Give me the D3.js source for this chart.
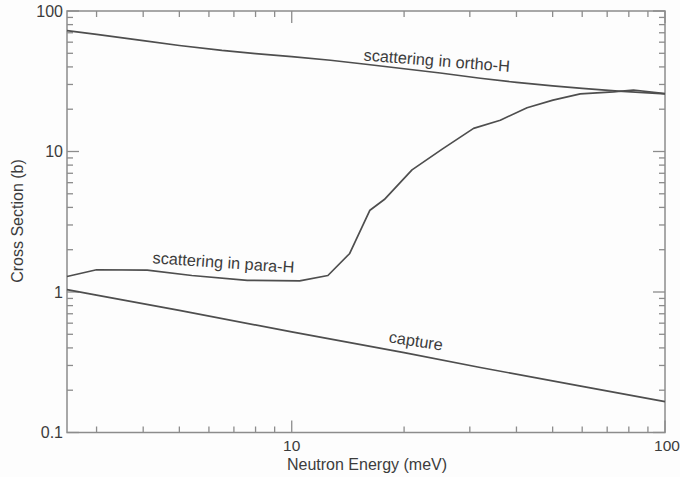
<!DOCTYPE html>
<html>
<head>
<meta charset="utf-8">
<script src="https://cdn.jsdelivr.net/npm/d3@7"></script>
<style>
  html, body { margin: 0; padding: 0; background: #fdfdfd; }
  svg { display: block; font-family: "Liberation Sans", Arial, Helvetica, sans-serif; }
</style>
</head>
<body>
<svg id="chart" width="680" height="477"></svg>
<script>
// Neutron energies (meV) and cross sections (barns) for each curve
const orthoEnergy = [2.5, 3, 4, 5, 6.5, 8, 10, 12.7, 16, 20, 25, 32, 40, 50, 60, 75, 100];
const orthoXS     = [72.4, 68.2, 61.5, 56.8, 52.4, 49.8, 47.3, 44.6, 41.6, 38.8, 36.2, 33.2, 31.0, 29.3, 28.1, 26.9, 25.7];

const paraEnergy = [2.5, 3.0, 4.1, 5.4, 7.6, 10.5, 12.5, 14.3, 16.2, 17.7, 21.0, 25.3, 30.7, 36.2, 42.7, 50.1, 59.3, 72.8, 82.3, 100];
const paraXS     = [1.29, 1.44, 1.43, 1.31, 1.21, 1.20, 1.31, 1.88, 3.82, 4.55, 7.4, 10.4, 14.6, 16.7, 20.5, 23.2, 25.7, 26.6, 27.4, 25.8];

const captureEnergy = [2.5, 3, 5, 10, 20, 32, 59, 100];
const captureXS     = [1.04, 0.95, 0.74, 0.52, 0.37, 0.29, 0.215, 0.166];

// Axis ranges and labelled ticks
const xDomain = [2.5, 100];
const yDomain = [0.1, 100];
const xTickLabels = [10, 100];
const yTickLabels = [100, 10, 1, 0.1];

const curveLabels = [
  { text: "scattering in ortho-H", E: 24.4, v: 40.5, angle: 4.5 },
  { text: "scattering in para-H",  E: 6.55, v: 1.48, angle: 3.9 },
  { text: "capture",               E: 21.4, v: 0.41, angle: 8.7 }
];

const svg = d3.select("#chart");
const plotLeft = 67, plotRight = 665, plotTop = 11, plotBottom = 432.5;

const x = d3.scaleLog().domain(xDomain).range([plotLeft, plotRight]);
const y = d3.scaleLog().domain(yDomain).range([plotBottom, plotTop]);

const frameColor = "#8c8c8c";
const lineColor = "#4e4e4e";
const textColor = "#3c3c3c";

const isMajor = v => Math.abs(Math.log10(v) - Math.round(Math.log10(v))) < 1e-9;

// Ticks pointing inward on all four sides
const tickG = svg.append("g").attr("stroke", frameColor).attr("stroke-width", 1.3);
x.ticks().forEach(v => {
  const len = isMajor(v) ? 12 : 6;
  const px = x(v);
  tickG.append("line").attr("x1", px).attr("x2", px).attr("y1", plotBottom).attr("y2", plotBottom - len);
  tickG.append("line").attr("x1", px).attr("x2", px).attr("y1", plotTop).attr("y2", plotTop + len);
});
y.ticks().forEach(v => {
  const len = isMajor(v) ? 12 : 6;
  const py = y(v);
  tickG.append("line").attr("x1", plotLeft).attr("x2", plotLeft + len).attr("y1", py).attr("y2", py);
  tickG.append("line").attr("x1", plotRight).attr("x2", plotRight - len).attr("y1", py).attr("y2", py);
});

// Plot frame
svg.append("rect")
  .attr("x", plotLeft).attr("y", plotTop)
  .attr("width", plotRight - plotLeft).attr("height", plotBottom - plotTop)
  .attr("fill", "none").attr("stroke", frameColor).attr("stroke-width", 1.5);

// Curves
const line = d3.line().x(d => x(d[0])).y(d => y(d[1]));
const series = [
  d3.zip(orthoEnergy, orthoXS),
  d3.zip(paraEnergy, paraXS),
  d3.zip(captureEnergy, captureXS)
];
svg.append("g").selectAll("path").data(series).join("path")
  .attr("d", line)
  .attr("fill", "none")
  .attr("stroke", lineColor)
  .attr("stroke-width", 1.7)
  .attr("stroke-linejoin", "round");

// Tick labels
svg.append("g").selectAll("text").data(yTickLabels).join("text")
  .attr("x", 63).attr("y", d => y(d))
  .attr("dy", "0.36em")
  .attr("text-anchor", "end")
  .attr("font-size", 16).attr("fill", textColor)
  .text(d => d);

svg.append("g").selectAll("text").data(xTickLabels).join("text")
  .attr("x", d => x(d) + (d === 100 ? 2 : 0)).attr("y", 451)
  .attr("text-anchor", "middle")
  .attr("font-size", 15.5).attr("fill", textColor)
  .text(d => d);

// Axis titles
svg.append("text")
  .attr("x", 367).attr("y", 469.5)
  .attr("text-anchor", "middle")
  .attr("font-size", 16).attr("fill", textColor)
  .text("Neutron Energy (meV)");

svg.append("text")
  .attr("transform", "translate(23,221) rotate(-90)")
  .attr("text-anchor", "middle")
  .attr("font-size", 16).attr("fill", textColor)
  .text("Cross Section (b)");

// Curve labels
svg.append("g").selectAll("text").data(curveLabels).join("text")
  .attr("transform", d => `translate(${x(d.E)},${y(d.v)}) rotate(${d.angle})`)
  .attr("text-anchor", "middle")
  .attr("font-size", 16.3).attr("fill", textColor)
  .text(d => d.text);
</script>
</body>
</html>
